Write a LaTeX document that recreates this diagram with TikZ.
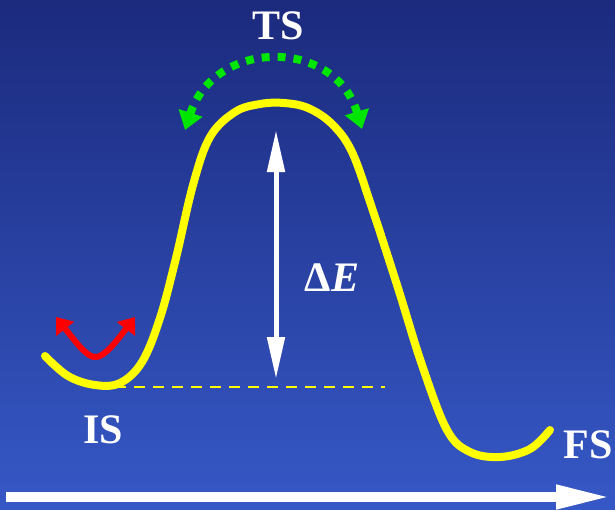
\documentclass[tikz,border=0pt]{standalone}
\usepackage{fontspec}
\setmainfont{Liberation Serif}
\usetikzlibrary{arrows.meta}
\definecolor{bgtop}{RGB}{27,42,125}
\definecolor{bgbot}{RGB}{54,88,198}
\definecolor{curvey}{RGB}{255,255,0}
\definecolor{dotgreen}{RGB}{0,230,0}
\tikzset{
  lbl/.style={text=white, font=\fontsize{42}{44}\selectfont\bfseries, inner sep=0pt},
  energy/.style={curvey, line width=8pt, line cap=round, line join=round},
}
\begin{document}
\begin{tikzpicture}[x=1pt,y=-1pt]
\shade[top color=bgtop, bottom color=bgbot] (0,0) rectangle (615,509);
\useasboundingbox (0,0) rectangle (615,509);
% energy curve
\draw[energy] plot[smooth, tension=0.6] coordinates {
 (45,356) (68,376) (95,385) (120,383) (142,362) (160,318) (176,258) (193,185) (210,137) (235,112) (260,104) (284,103) (308,108) (332,124) (352,152) (372,208) (398,288) (422,365) (447,430) (470,452) (500,457) (530,449) (550,430)};
% dashed baseline
\coordinate (d1) at (115,387);
\coordinate (d2) at (385,387);
\draw[curvey, line width=2.2pt, dash pattern=on 11pt off 8pt] (d1) -- (d2);
% red arrows
\coordinate (r1) at (56,317);
\coordinate (r2) at (135,317);
\draw[red, line width=6pt, {Triangle[length=15pt,width=22pt]}-{Triangle[length=15pt,width=22pt]}]
  (r1) .. controls (78,345) and (88,358) .. (96,357) .. controls (104,357) and (116,342) .. (r2);
% green dotted arc
\coordinate (g1) at (185,130);
\coordinate (g2) at (362,129);
\draw[dotgreen, line width=8pt, dash pattern=on 8pt off 8pt, {Triangle[length=18pt,width=24pt]}-{Triangle[length=18pt,width=24pt]}]
  (g1) .. controls (215,38) and (335,38) .. (g2);
% Delta E arrow
\coordinate (e1) at (276,130);
\coordinate (e2) at (276,379);
\draw[white, line width=5pt, {Triangle[length=42pt,width=17pt]}-{Triangle[length=42pt,width=17pt]}] (e1) -- (e2);
% reaction coordinate arrow
\coordinate (a1) at (6,497);
\coordinate (a2) at (612,497);
\draw[white, line width=10pt, -{Triangle[length=56pt,width=22pt]}] (a1) -- (a2);
% labels
\node[lbl] (ts) at (278,26) {TS};
\node[lbl] (de) at (332,278) {Δ\textit{E}};
\node[lbl] (is) at (103,430) {IS};
\node[lbl] (fs) at (588,445) {FS};
\end{tikzpicture}
\end{document}
